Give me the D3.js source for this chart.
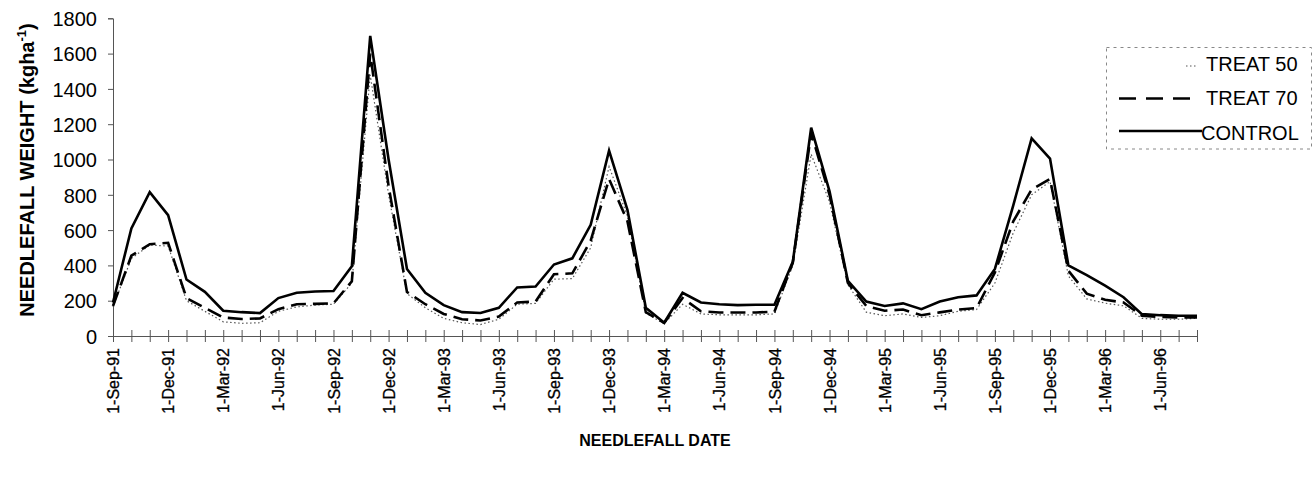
<!DOCTYPE html>
<html>
<head>
<meta charset="utf-8">
<script src="https://cdn.jsdelivr.net/npm/d3@7"></script>
<style>
  html, body { margin: 0; padding: 0; background: #fff; }
  svg { display: block; }
  text { font-family: Arial, "Liberation Sans", Helvetica, sans-serif; fill: #000; }
</style>
</head>
<body>
<svg id="chart" width="1313" height="478"></svg>
<script>
// Monthly needlefall collections, 1 Sep 1991 to 1 Aug 1996
const months = d3.timeMonth.range(new Date(1991, 8, 1), new Date(1996, 8, 1));

// Needlefall weight (kg/ha) per collection date
const control = [190, 610, 815, 685, 320, 250, 143, 135, 130, 215, 245, 252,
                 255, 395, 1700, 1000, 380, 245, 175, 135, 130, 160, 275, 280,
                 405, 440, 630, 1050, 715, 160, 75, 245, 190, 180, 175, 177,
                 177, 420, 1180, 820, 312, 195, 170, 185, 152, 195, 220, 230,
                 380, 740, 1120, 1005, 400, 345, 285, 220, 124, 118, 115, 115];
const treat70 = [170, 455, 520, 528, 215, 160, 105, 96, 100, 152, 180, 182,
                 185, 310, 1600, 850, 250, 180, 125, 95, 88, 110, 190, 195,
                 350, 355, 540, 890, 650, 135, 75, 215, 140, 133, 133, 133,
                 138, 415, 1150, 800, 300, 170, 143, 150, 118, 134, 150, 158,
                 360, 650, 830, 890, 370, 240, 205, 190, 115, 108, 105, 105];
const treat50 = [165, 440, 515, 510, 200, 140, 80, 72, 75, 140, 165, 175,
                 180, 300, 1480, 800, 240, 160, 100, 75, 65, 95, 180, 185,
                 322, 325, 500, 960, 680, 130, 70, 180, 125, 120, 120, 120,
                 125, 400, 1030, 760, 290, 135, 115, 125, 105, 115, 140, 150,
                 300, 585, 800, 875, 340, 210, 186, 171, 100, 95, 95, 100];

const yTicks = [0, 200, 400, 600, 800, 1000, 1200, 1400, 1600, 1800];
const xTickLabels = ["1-Sep-91", "1-Dec-91", "1-Mar-92", "1-Jun-92", "1-Sep-92",
                     "1-Dec-92", "1-Mar-93", "1-Jun-93", "1-Sep-93", "1-Dec-93",
                     "1-Mar-94", "1-Jun-94", "1-Sep-94", "1-Dec-94", "1-Mar-95",
                     "1-Jun-95", "1-Sep-95", "1-Dec-95", "1-Mar-96", "1-Jun-96"];

const seriesNames = ["TREAT 50", "TREAT 70", "CONTROL"];

const fmt = d3.timeFormat("%-d-%b-%y");
const svg = d3.select("#chart");

const x = d3.scalePoint()
  .domain(months.map(fmt))
  .range([113, 1197]);

const y = d3.scaleLinear()
  .domain([0, 1800])
  .range([336, 18.3]);

// Axes
const yAxis = d3.axisLeft(y).tickValues(yTicks).tickFormat(d3.format("d"))
  .tickSize(5).tickPadding(11);
const gy = svg.append("g").attr("transform", `translate(${x.range()[0]},0)`).call(yAxis);
gy.select(".domain").attr("stroke", "#555");
gy.selectAll(".tick line").attr("stroke", "#555");
gy.selectAll(".tick text").style("font-size", "20px").attr("dy", "0.36em");

const xAxis = d3.axisBottom(x)
  .tickSize(6)
  .tickSizeOuter(0)
  .tickFormat(d => xTickLabels.includes(d) ? d : "");
const gx = svg.append("g").attr("transform", `translate(0,${y(0)})`).call(xAxis);
gx.select(".domain").attr("stroke", "#555");
gx.selectAll(".tick line").attr("stroke", "#555").attr("y1", -6).attr("y2", 6);
gx.selectAll(".tick text")
  .style("font-size", "16px")
  .attr("text-anchor", "end")
  .attr("transform", "rotate(-90)")
  .attr("x", -12)
  .attr("y", 0)
  .attr("dy", "0.35em")
  .attr("stroke", "#000")
  .attr("stroke-width", 0.3);

// Series lines
const line = d3.line()
  .x((d, i) => x(fmt(months[i])))
  .y(d => y(d));

const styles = [
  { data: treat50, stroke: "#555", width: 1.2, dash: "1.5,2.5" },
  { data: treat70, stroke: "#000", width: 2.6, dash: "15,7" },
  { data: control, stroke: "#000", width: 2.6, dash: null }
];

svg.append("g").selectAll("path")
  .data(styles)
  .join("path")
  .attr("fill", "none")
  .attr("stroke", d => d.stroke)
  .attr("stroke-width", d => d.width)
  .attr("stroke-dasharray", d => d.dash)
  .attr("stroke-linejoin", "miter")
  .attr("d", d => line(d.data));

// Axis titles
svg.append("text")
  .attr("transform", "translate(34,170) rotate(-90)")
  .attr("text-anchor", "middle")
  .style("font-size", "20px")
  .style("font-weight", "bold")
  .html('NEEDLEFALL WEIGHT (kgha<tspan dy="-8" font-size="13px">-1</tspan><tspan dy="8">)</tspan>');

svg.append("text")
  .attr("x", 655)
  .attr("y", 446)
  .attr("text-anchor", "middle")
  .style("font-size", "16px")
  .style("font-weight", "bold")
  .text("NEEDLEFALL DATE");

// Legend
const legend = svg.append("g");
legend.append("rect")
  .attr("x", 1106.5).attr("y", 47.5)
  .attr("width", 205).attr("height", 101.5)
  .attr("fill", "none")
  .attr("stroke", "#888")
  .attr("stroke-width", 1)
  .attr("stroke-dasharray", "3,4");

const rowY = [66, 98.5, 131];
const baseY = [70.5, 105.3, 140];
legend.selectAll("line.sample")
  .data(styles)
  .join("line")
  .attr("class", "sample")
  .attr("x1", (d, i) => i === 0 ? 1186 : 1119)
  .attr("x2", (d, i) => i === 2 ? 1202 : (i === 0 ? 1197 : 1192))
  .attr("y1", (d, i) => rowY[i]).attr("y2", (d, i) => rowY[i])
  .attr("stroke", d => d.stroke)
  .attr("stroke-width", d => d.width)
  .attr("stroke-dasharray", (d, i) => i === 1 ? "17,10" : d.dash);

legend.selectAll("text")
  .data(seriesNames)
  .join("text")
  .attr("x", (d, i) => i === 2 ? 1201 : 1206)
  .attr("y", (d, i) => baseY[i])
  .style("font-size", "20px")
  .text(d => d);
</script>
</body>
</html>
